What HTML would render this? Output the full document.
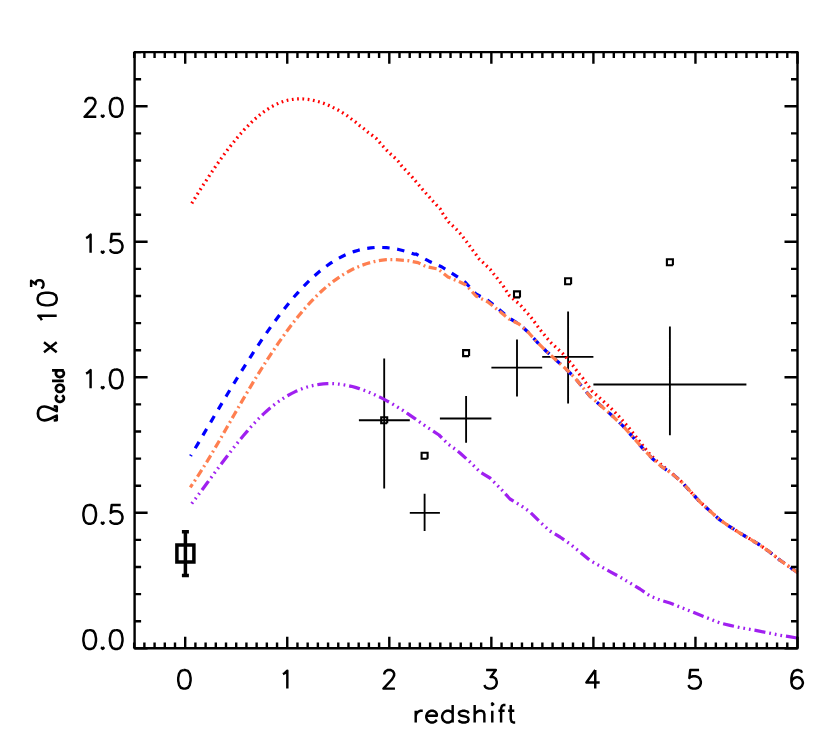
<!DOCTYPE html>
<html lang="en">
<head>
<meta charset="utf-8">
<title>Omega_cold vs redshift</title>
<style>
html,body{margin:0;padding:0;background:#fff;font-family:"Liberation Sans",sans-serif;}
svg{display:block;}
</style>
</head>
<body>
<svg width="830" height="755" viewBox="0 0 830 755">
<rect width="830" height="755" fill="#fff"/>
<path d="M358.9 420.2H409.8M384.2 358.4V488.6 M409.8 512.9H439.9M424.6 493.7V531.0 M439.9 418.5H491.4M466.1 396.0V442.7 M491.4 367.6H542.2M517.0 339.4V396.6 M542.2 356.8H593.4M568.1 311.5V403.5 M593.4 384.45H746.4M669.9 326.5V435.2" fill="none" stroke="#000" stroke-width="1.85"/>
<path d="M387.2 423.2v-6.0h-6.0v6.0h6.0 M427.6 458.8v-6.0h-6.0v6.0h6.0 M469.1 356.1v-6.0h-6.0v6.0h6.0 M520.0 297.4v-6.0h-6.0v6.0h6.0 M571.1 284.2v-6.0h-6.0v6.0h6.0 M672.9 265.2v-6.0h-6.0v6.0h6.0" fill="none" stroke="#000" stroke-width="2.1" stroke-linejoin="miter"/>
<path d="M176.9 545.1h17.0v17.0h-17.0z M185.4 531.8V575.4 M181.9 531.8h7 M181.9 575.4h7" fill="none" stroke="#000" stroke-width="3.5" stroke-linejoin="miter"/>
<path d="M191.8 203.3L195.8 196.8L199.8 190.4L203.8 184.2L207.8 178.0L211.8 172.0L215.8 166.1L219.8 160.4L223.8 154.9L227.8 149.5L231.8 144.4L235.8 139.4L239.8 134.7L243.8 130.2L247.8 126.0L251.8 122.0L255.8 118.3L259.8 114.9L263.8 111.8L267.8 109.1L271.8 106.6L275.8 104.5L279.8 102.7L283.8 101.3L287.8 100.2L291.8 99.5L295.8 99.0L299.8 98.9L303.8 99.0L307.8 99.4L311.8 100.0L315.8 100.9L319.8 102.0L323.8 103.4L327.8 105.0L331.8 106.9L335.8 108.9L338.4 110.2L342.8 112.9L347.3 115.8L351.4 119.0L355.8 122.2L359.8 125.7L363.9 128.8L368.0 132.3L372.3 135.4L376.4 138.6L379.8 142.6L383.5 146.8L386.9 150.5L390.8 154.2L394.7 157.7L398.5 161.6L401.5 165.7L412.4 177.4L422.6 189.5L433.1 201.3L440.3 209.0L442.8 213.6L445.8 217.9L448.9 222.3L452.8 225.9L456.6 229.6L460.2 233.5L463.4 237.6L466.6 241.8L469.8 246.1L472.9 250.4L476.0 254.5L479.1 258.9L482.9 262.4L486.8 266.1L490.6 269.9L493.7 274.0L497.1 278.1L500.4 282.4L503.6 286.6L506.5 291.1L509.4 295.6L513.3 299.0L517.4 302.4L521.3 306.1L524.7 310.1L528.2 314.0L531.5 318.0L534.7 322.3L537.8 326.6L541.0 330.8L544.4 334.9L547.8 339.0L551.3 343.0L555.1 346.5L559.0 350.1L562.9 353.7L566.4 357.7L569.7 361.6L573.1 365.8L576.3 370.1L579.4 374.2L582.8 378.2L585.8 382.7L589.0 387.0L592.1 391.3L595.9 394.6L599.9 398.1L603.9 401.7L607.7 405.3L611.7 409.0L615.5 412.8L619.1 416.6L622.6 420.6L626.1 424.6L629.4 428.5L636.4 437.3L643.0 445.9L649.6 453.9L656.2 460.5L662.2 465.5L672.1 473.7L681.4 481.7L690.0 491.0L700.0 502.0L710.0 511.0L720.0 520.0L728.5 525.8L739.5 532.8L749.4 538.7L759.3 544.7L769.3 551.7L779.2 559.6L789.1 566.6L797.5 572.5" fill="none" stroke="#ff0000" stroke-width="3.25" stroke-dasharray="1.75 3.540" stroke-dashoffset="0.12" stroke-linejoin="round"/>
<path d="M190.6 456.0L194.6 449.3L198.6 442.6L202.6 435.8L206.6 429.0L210.6 422.3L214.6 415.5L218.6 408.8L222.6 402.1L226.6 395.5L230.6 388.8L234.6 382.3L238.6 375.8L242.6 369.4L246.6 363.0L250.6 356.8L254.6 350.6L258.6 344.6L262.6 338.6L266.6 332.8L270.6 327.1L274.6 321.6L278.6 316.2L282.6 311.0L286.6 305.9L290.6 301.0L294.6 296.3L298.6 291.8L302.6 287.4L306.6 283.3L310.6 279.4L314.6 275.7L318.6 272.2L322.6 269.0L326.6 266.0L330.6 263.2L334.6 260.6L338.6 258.3L342.6 256.2L346.6 254.4L350.6 252.8L354.6 251.4L358.6 250.2L362.6 249.2L366.6 248.4L370.6 247.9L374.6 247.5L378.6 247.4L382.6 247.5L386.6 247.7L390.6 248.1L394.6 248.7L398.6 249.5L402.6 250.5L406.6 251.6L410.6 252.8L414.6 254.2L416.0 254.0L429.0 261.2L442.0 267.0L454.0 274.6L465.0 282.0L476.0 294.0L488.0 300.5L498.0 308.5L509.0 318.0L519.0 324.0L528.0 332.0L537.0 342.0L546.0 351.0L556.0 360.0L566.0 369.0L575.0 378.0L584.0 389.0L590.0 396.3L600.0 404.9L611.2 414.8L623.1 426.1L633.7 438.0L643.0 448.6L652.3 458.5L661.5 466.5L672.1 473.7L681.4 481.7L690.0 491.0L700.0 502.0L710.0 511.0L720.0 520.0L728.5 525.8L739.5 532.8L749.4 538.7L759.3 544.7L769.3 551.7L779.2 559.6L789.1 566.6L797.5 572.5" fill="none" stroke="#0000ff" stroke-width="3.25" stroke-dasharray="7.4 7.64" stroke-dashoffset="6.04" stroke-linejoin="round"/>
<path d="M190.3 487.3L194.3 481.5L198.3 475.4L202.3 469.1L206.3 462.7L210.3 456.1L214.3 449.3L218.3 442.5L222.3 435.5L226.3 428.5L230.3 421.5L234.3 414.5L238.3 407.6L242.3 400.6L246.3 393.8L250.3 387.1L254.3 380.4L258.3 373.9L262.3 367.5L266.3 361.2L270.3 355.1L274.3 349.1L278.3 343.2L282.3 337.5L286.3 331.9L290.3 326.5L294.3 321.3L298.3 316.3L302.3 311.5L306.3 306.8L310.3 302.4L314.3 298.2L318.3 294.2L322.3 290.5L326.3 287.0L330.3 283.7L334.3 280.6L338.3 277.8L342.3 275.1L346.3 272.7L350.3 270.5L354.3 268.5L358.3 266.8L362.3 265.2L366.3 263.8L370.3 262.6L374.3 261.6L378.3 260.8L382.3 260.2L386.3 259.7L390.3 259.5L394.3 259.5L396.0 259.6L408.0 260.6L418.0 262.6L426.0 266.6L438.0 269.0L448.0 277.0L460.0 282.0L466.0 285.0L476.0 296.0L488.0 302.0L498.0 310.0L509.0 319.0L519.0 324.0L528.0 332.0L537.0 342.0L546.0 351.0L556.0 360.0L566.0 369.0L575.0 378.0L584.0 389.0L590.0 396.3L600.0 404.9L611.2 414.8L623.1 426.1L633.7 438.0L643.0 448.6L652.3 458.5L661.5 466.5L672.1 473.7L681.4 481.7L690.0 491.0L700.0 502.0L710.0 511.0L720.0 520.0L728.5 525.8L739.5 532.8L749.4 538.7L759.3 544.7L769.3 551.7L779.2 559.6L789.1 566.6L797.5 572.5" fill="none" stroke="#ff7f50" stroke-width="3.25" stroke-dasharray="8.1 3.52 1.9 3.525" stroke-dashoffset="4.3" stroke-linejoin="round"/>
<path d="M191.3 504.2L195.3 498.9L199.3 493.6L203.3 488.2L207.3 482.8L211.3 477.4L215.3 472.0L219.3 466.6L223.3 461.3L227.3 456.0L231.3 450.7L235.3 445.6L239.3 440.6L243.3 435.8L247.3 431.1L251.3 426.5L255.3 422.2L259.3 418.0L263.3 414.1L267.3 410.5L271.3 407.1L275.3 403.9L279.3 401.0L283.3 398.3L287.3 395.8L291.3 393.6L295.3 391.6L299.3 389.9L303.3 388.3L307.3 387.0L311.3 385.9L315.3 385.1L319.3 384.4L323.3 383.9L327.3 383.7L331.3 383.6L335.3 383.8L339.3 384.2L343.3 384.7L347.3 385.4L351.3 386.3L355.3 387.4L359.3 388.6L363.3 390.0L367.3 391.5L371.3 393.2L375.3 395.0L379.3 396.9L383.3 398.9L387.3 401.1L391.3 403.3L395.3 405.7L399.3 408.2L403.3 410.7L407.3 413.4L411.3 416.1L415.3 418.8L419.3 421.7L423.3 424.5L427.3 427.5L430.0 429.0L439.0 435.0L448.0 444.0L455.0 449.0L460.0 453.0L470.0 462.0L480.0 472.0L490.0 478.0L500.0 488.0L510.0 499.0L520.0 505.0L530.0 512.0L540.0 522.0L550.0 531.0L560.0 537.0L570.0 544.0L580.0 552.0L590.0 560.5L600.0 566.0L610.0 571.6L620.0 577.0L630.0 583.0L640.0 589.0L650.0 596.0L660.0 600.0L670.0 603.0L680.0 607.0L690.0 611.0L700.0 615.0L710.0 619.0L720.0 623.0L730.0 625.4L740.0 627.6L750.0 629.4L759.3 631.1L769.3 633.1L779.2 635.1L789.1 636.7L797.5 638.1" fill="none" stroke="#a020f0" stroke-width="3.25" stroke-dasharray="11.1 3.92 1.75 3.92 1.75 3.92 1.75 3.92" stroke-dashoffset="14.29" stroke-linejoin="round"/>
<rect x="134.6" y="52.1" width="662.9" height="596.2" fill="none" stroke="#000" stroke-width="2.4" stroke-linejoin="round"/>
<path d="M134.17 648.3v-5.9M134.17 52.1v5.9 M144.38 648.3v-5.9M144.38 52.1v5.9 M154.58 648.3v-5.9M154.58 52.1v5.9 M164.79 648.3v-5.9M164.79 52.1v5.9 M175.00 648.3v-5.9M175.00 52.1v5.9 M185.20 648.3v-11.6M185.20 52.1v11.6 M195.41 648.3v-5.9M195.41 52.1v5.9 M205.61 648.3v-5.9M205.61 52.1v5.9 M215.81 648.3v-5.9M215.81 52.1v5.9 M226.02 648.3v-5.9M226.02 52.1v5.9 M236.22 648.3v-5.9M236.22 52.1v5.9 M246.43 648.3v-5.9M246.43 52.1v5.9 M256.63 648.3v-5.9M256.63 52.1v5.9 M266.84 648.3v-5.9M266.84 52.1v5.9 M277.05 648.3v-5.9M277.05 52.1v5.9 M287.25 648.3v-11.6M287.25 52.1v11.6 M297.45 648.3v-5.9M297.45 52.1v5.9 M307.66 648.3v-5.9M307.66 52.1v5.9 M317.87 648.3v-5.9M317.87 52.1v5.9 M328.07 648.3v-5.9M328.07 52.1v5.9 M338.27 648.3v-5.9M338.27 52.1v5.9 M348.48 648.3v-5.9M348.48 52.1v5.9 M358.69 648.3v-5.9M358.69 52.1v5.9 M368.89 648.3v-5.9M368.89 52.1v5.9 M379.10 648.3v-5.9M379.10 52.1v5.9 M389.30 648.3v-11.6M389.30 52.1v11.6 M399.50 648.3v-5.9M399.50 52.1v5.9 M409.71 648.3v-5.9M409.71 52.1v5.9 M419.92 648.3v-5.9M419.92 52.1v5.9 M430.12 648.3v-5.9M430.12 52.1v5.9 M440.32 648.3v-5.9M440.32 52.1v5.9 M450.53 648.3v-5.9M450.53 52.1v5.9 M460.74 648.3v-5.9M460.74 52.1v5.9 M470.94 648.3v-5.9M470.94 52.1v5.9 M481.15 648.3v-5.9M481.15 52.1v5.9 M491.35 648.3v-11.6M491.35 52.1v11.6 M501.56 648.3v-5.9M501.56 52.1v5.9 M511.76 648.3v-5.9M511.76 52.1v5.9 M521.97 648.3v-5.9M521.97 52.1v5.9 M532.17 648.3v-5.9M532.17 52.1v5.9 M542.38 648.3v-5.9M542.38 52.1v5.9 M552.58 648.3v-5.9M552.58 52.1v5.9 M562.78 648.3v-5.9M562.78 52.1v5.9 M572.99 648.3v-5.9M572.99 52.1v5.9 M583.19 648.3v-5.9M583.19 52.1v5.9 M593.40 648.3v-11.6M593.40 52.1v11.6 M603.61 648.3v-5.9M603.61 52.1v5.9 M613.81 648.3v-5.9M613.81 52.1v5.9 M624.02 648.3v-5.9M624.02 52.1v5.9 M634.22 648.3v-5.9M634.22 52.1v5.9 M644.42 648.3v-5.9M644.42 52.1v5.9 M654.63 648.3v-5.9M654.63 52.1v5.9 M664.84 648.3v-5.9M664.84 52.1v5.9 M675.04 648.3v-5.9M675.04 52.1v5.9 M685.25 648.3v-5.9M685.25 52.1v5.9 M695.45 648.3v-11.6M695.45 52.1v11.6 M705.65 648.3v-5.9M705.65 52.1v5.9 M715.86 648.3v-5.9M715.86 52.1v5.9 M726.07 648.3v-5.9M726.07 52.1v5.9 M736.27 648.3v-5.9M736.27 52.1v5.9 M746.47 648.3v-5.9M746.47 52.1v5.9 M756.68 648.3v-5.9M756.68 52.1v5.9 M766.88 648.3v-5.9M766.88 52.1v5.9 M777.09 648.3v-5.9M777.09 52.1v5.9 M787.30 648.3v-5.9M787.30 52.1v5.9 M797.50 648.3v-11.6M797.50 52.1v11.6 M134.6 648.30h13.0M797.5 648.30h-13.0 M134.6 621.20h6.5M797.5 621.20h-6.5 M134.6 594.10h6.5M797.5 594.10h-6.5 M134.6 567.00h6.5M797.5 567.00h-6.5 M134.6 539.90h6.5M797.5 539.90h-6.5 M134.6 512.80h13.0M797.5 512.80h-13.0 M134.6 485.70h6.5M797.5 485.70h-6.5 M134.6 458.60h6.5M797.5 458.60h-6.5 M134.6 431.50h6.5M797.5 431.50h-6.5 M134.6 404.40h6.5M797.5 404.40h-6.5 M134.6 377.30h13.0M797.5 377.30h-13.0 M134.6 350.20h6.5M797.5 350.20h-6.5 M134.6 323.10h6.5M797.5 323.10h-6.5 M134.6 296.00h6.5M797.5 296.00h-6.5 M134.6 268.90h6.5M797.5 268.90h-6.5 M134.6 241.80h13.0M797.5 241.80h-13.0 M134.6 214.70h6.5M797.5 214.70h-6.5 M134.6 187.60h6.5M797.5 187.60h-6.5 M134.6 160.50h6.5M797.5 160.50h-6.5 M134.6 133.40h6.5M797.5 133.40h-6.5 M134.6 106.30h13.0M797.5 106.30h-13.0 M134.6 79.20h6.5M797.5 79.20h-6.5 M134.6 52.10h6.5M797.5 52.10h-6.5" fill="none" stroke="#000" stroke-width="2.4"/>
<path d="M183.51 670.08L180.86 670.96L179.09 673.61L178.20 678.02L178.20 680.66L179.09 685.07L180.86 687.72L183.51 688.60L185.28 688.60L187.94 687.72L189.71 685.07L190.59 680.66L190.59 678.02L189.71 673.61L187.94 670.96L185.28 670.08L183.51 670.08 M282.91 674.14L284.68 673.25L287.33 670.70L287.33 688.60 M384.28 674.49L384.28 673.61L385.10 671.84L385.92 670.96L387.56 670.08L390.85 670.08L392.50 670.96L393.32 671.84L394.14 673.61L394.14 675.37L393.32 677.13L391.67 679.78L383.46 688.60L394.96 688.60 M486.12 670.08L495.86 670.08L490.55 677.13L493.20 677.13L494.97 678.02L495.86 678.90L496.74 681.54L496.74 683.31L495.86 685.95L494.09 687.72L491.43 688.60L488.78 688.60L486.12 687.72L485.24 686.84L484.35 685.07 M595.25 670.08L586.40 682.43L599.68 682.43 M595.25 670.08L595.25 688.60 M699.08 670.08L690.23 670.08L689.34 678.02L690.23 677.13L692.88 676.25L695.54 676.25L698.19 677.13L699.96 678.90L700.85 681.54L700.85 683.31L699.96 685.95L698.19 687.72L695.54 688.60L692.88 688.60L690.23 687.72L689.34 686.84L688.46 685.07 M802.01 672.72L801.12 670.96L798.47 670.08L796.70 670.08L794.05 670.96L792.27 673.61L791.39 678.02L791.39 682.43L792.27 685.95L794.05 687.72L796.70 688.60L797.59 688.60L800.24 687.72L802.01 685.95L802.89 683.31L802.89 682.43L802.01 679.78L800.24 678.02L797.59 677.13L796.70 677.13L794.05 678.02L792.27 679.78L791.39 682.43 M88.80 630.10L86.10 631.00L84.30 633.70L83.40 638.20L83.40 640.90L84.30 645.40L86.10 648.10L88.80 649.00L90.60 649.00L93.30 648.10L95.10 645.40L96.00 640.90L96.00 638.20L95.10 633.70L93.30 631.00L90.60 630.10L88.80 630.10 M102.70 647.20L101.80 648.10L102.70 649.00L103.60 648.10L102.70 647.20 M115.30 630.10L112.60 631.00L110.80 633.70L109.90 638.20L109.90 640.90L110.80 645.40L112.60 648.10L115.30 649.00L117.10 649.00L119.80 648.10L121.60 645.40L122.50 640.90L122.50 638.20L121.60 633.70L119.80 631.00L117.10 630.10L115.30 630.10 M88.80 504.90L86.10 505.80L84.30 508.50L83.40 513.00L83.40 515.70L84.30 520.20L86.10 522.90L88.80 523.80L90.60 523.80L93.30 522.90L95.10 520.20L96.00 515.70L96.00 513.00L95.10 508.50L93.30 505.80L90.60 504.90L88.80 504.90 M102.70 522.00L101.80 522.90L102.70 523.80L103.60 522.90L102.70 522.00 M120.70 504.90L111.70 504.90L110.80 513.00L111.70 512.10L114.40 511.20L117.10 511.20L119.80 512.10L121.60 513.90L122.50 516.60L122.50 518.40L121.60 521.10L119.80 522.90L117.10 523.80L114.40 523.80L111.70 522.90L110.80 522.00L109.90 520.20 M86.10 373.54L87.90 372.64L90.60 370.03L90.60 388.30 M102.70 386.50L101.80 387.40L102.70 388.30L103.60 387.40L102.70 386.50 M115.30 369.40L112.60 370.30L110.80 373.00L109.90 377.50L109.90 380.20L110.80 384.70L112.60 387.40L115.30 388.30L117.10 388.30L119.80 387.40L121.60 384.70L122.50 380.20L122.50 377.50L121.60 373.00L119.80 370.30L117.10 369.40L115.30 369.40 M86.10 238.04L87.90 237.14L90.60 234.53L90.60 252.80 M102.70 251.00L101.80 251.90L102.70 252.80L103.60 251.90L102.70 251.00 M120.70 233.90L111.70 233.90L110.80 242.00L111.70 241.10L114.40 240.20L117.10 240.20L119.80 241.10L121.60 242.90L122.50 245.60L122.50 247.40L121.60 250.10L119.80 251.90L117.10 252.80L114.40 252.80L111.70 251.90L110.80 251.00L109.90 249.20 M85.41 102.40L85.41 101.50L86.24 99.70L87.08 98.80L88.75 97.90L92.09 97.90L93.76 98.80L94.60 99.70L95.43 101.50L95.43 103.30L94.60 105.10L92.93 107.80L84.57 116.80L96.27 116.80 M102.70 115.00L101.80 115.90L102.70 116.80L103.60 115.90L102.70 115.00 M115.30 97.90L112.60 98.80L110.80 101.50L109.90 106.00L109.90 108.70L110.80 113.20L112.60 115.90L115.30 116.80L117.10 116.80L119.80 115.90L121.60 113.20L122.50 108.70L122.50 106.00L121.60 101.50L119.80 98.80L117.10 97.90L115.30 97.90 M415.72 710.81L415.72 722.50 M415.72 715.82L416.60 713.32L418.36 711.64L420.12 710.81L422.76 710.81 M426.28 715.82L436.84 715.82L436.84 714.15L435.96 712.48L435.08 711.64L433.32 710.81L430.68 710.81L428.92 711.64L427.16 713.32L426.28 715.82L426.28 717.49L427.16 720.00L428.92 721.66L430.68 722.50L433.32 722.50L435.08 721.66L436.84 720.00 M452.68 704.97L452.68 722.50 M452.68 713.32L450.92 711.64L449.16 710.81L446.52 710.81L444.76 711.64L443.00 713.32L442.12 715.82L442.12 717.49L443.00 720.00L444.76 721.66L446.52 722.50L449.16 722.50L450.92 721.66L452.68 720.00 M468.52 713.32L467.64 711.64L465.00 710.81L462.36 710.81L459.72 711.64L458.84 713.32L459.72 714.99L461.48 715.82L465.88 716.65L467.64 717.49L468.52 719.16L468.52 720.00L467.64 721.66L465.00 722.50L462.36 722.50L459.72 721.66L458.84 720.00 M474.68 704.97L474.68 722.50 M474.68 714.15L477.32 711.64L479.08 710.81L481.72 710.81L483.48 711.64L484.36 714.15L484.36 722.50 M491.40 704.13L492.28 704.97L493.16 704.13L492.28 703.29L491.40 704.13 M492.28 710.81L492.28 722.50 M505.48 704.97L503.72 704.97L501.96 705.80L501.08 708.30L501.08 722.50 M498.44 710.81L504.60 710.81 M510.76 704.97L510.76 719.16L511.64 721.66L513.40 722.50L515.16 722.50 M508.12 710.81L514.28 710.81" fill="none" stroke="#000" stroke-width="2.45" stroke-linejoin="round" stroke-linecap="butt"/>
<g transform="translate(56.7 413.4) rotate(-90)" fill="none" stroke="#000" stroke-linejoin="round" stroke-linecap="butt">
<path d="M-7.1 -3.0L-6.7 0L-2.3 0C-4.0 -4.2 -6.9 -8.0 -6.9 -12.4C-6.9 -16.4 -3.9 -18.8 0 -18.8C3.9 -18.8 6.9 -16.4 6.9 -12.4C6.9 -8.0 4.0 -4.2 2.3 0L6.7 0L7.1 -3.0" stroke-width="2.7"/>
<path d="M18.16 0.94L17.06 -0.18L15.96 -0.74L14.31 -0.74L13.21 -0.18L12.10 0.94L11.55 2.62L11.55 3.74L12.10 5.42L13.21 6.54L14.31 7.10L15.96 7.10L17.06 6.54L18.16 5.42 M24.23 -0.74L23.12 -0.18L22.02 0.94L21.47 2.62L21.47 3.74L22.02 5.42L23.12 6.54L24.23 7.10L25.88 7.10L26.98 6.54L28.08 5.42L28.63 3.74L28.63 2.62L28.08 0.94L26.98 -0.18L25.88 -0.74L24.23 -0.74 M32.49 -4.66L32.49 7.10 M42.96 -4.66L42.96 7.10 M42.96 0.94L41.86 -0.18L40.76 -0.74L39.10 -0.74L38.00 -0.18L36.90 0.94L36.35 2.62L36.35 3.74L36.90 5.42L38.00 6.54L39.10 7.10L40.76 7.10L41.86 6.54L42.96 5.42" stroke-width="2.7"/>
<path d="M61.17 -12.70L71.15 0.00 M71.15 -12.70L61.17 0.00 M93.12 -14.87L94.94 -15.78L97.66 -18.41L97.66 0.00 M113.48 -19.05L110.76 -18.14L108.95 -15.42L108.04 -10.88L108.04 -8.16L108.95 -3.63L110.76 -0.91L113.48 0.00L115.30 0.00L118.02 -0.91L119.83 -3.63L120.74 -8.16L120.74 -10.88L119.83 -15.42L118.02 -18.14L115.30 -19.05L113.48 -19.05" stroke-width="2.45"/>
<path d="M126.33 -25.59L132.65 -25.59L129.20 -20.87L130.93 -20.87L132.07 -20.28L132.65 -19.69L133.22 -17.92L133.22 -16.74L132.65 -14.97L131.50 -13.79L129.78 -13.20L128.05 -13.20L126.33 -13.79L125.75 -14.38L125.17 -15.56" stroke-width="2.45"/>
</g>
</svg>
</body>
</html>
